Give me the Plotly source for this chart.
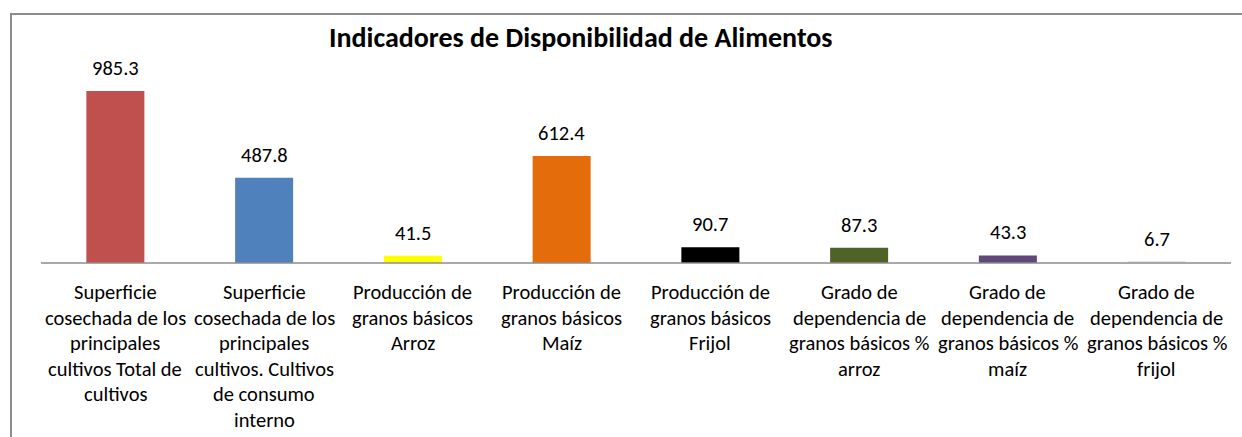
import plotly.graph_objects as go

categories = [
    "Superficie<br>cosechada de los<br>principales<br>cultivos Total de<br>cultivos",
    "Superficie<br>cosechada de los<br>principales<br>cultivos. Cultivos<br>de consumo<br>interno",
    "Producción de<br>granos básicos<br>Arroz",
    "Producción de<br>granos básicos<br>Maíz",
    "Producción de<br>granos básicos<br>Frijol",
    "Grado de<br>dependencia de<br>granos básicos %<br>arroz",
    "Grado de<br>dependencia de<br>granos básicos %<br>maíz",
    "Grado de<br>dependencia de<br>granos básicos %<br>frijol",
]
values = [985.3, 487.8, 41.5, 612.4, 90.7, 87.3, 43.3, 6.7]
value_labels = ["985.3", "487.8", "41.5", "612.4", "90.7", "87.3", "43.3", "6.7"]
colors = ["#C0504D", "#4F81BD", "#FFFF00", "#E46C0A", "#000000", "#4F6228", "#5F497A", "#E6E6E6"]
title = "Indicadores de Disponibilidad de Alimentos"

FONT = "Carlito, Calibri, Lato, sans-serif"
xs = list(range(len(categories)))

# paper coords derived from margins
L, R, T, B = 41, 11, 40, 174
W, H = 1242, 437
pw, ph = W - L - R, H - T - B
def px(xp): return (xp - L) / pw
def py(yp): return (H - B - yp) / ph

fig = go.Figure()
fig.add_trace(go.Bar(
    x=xs, y=values, marker=dict(color=colors, line=dict(width=0)),
    width=0.39, hoverinfo="skip", showlegend=False,
))

annotations = []
for i, (v, t) in enumerate(zip(values, value_labels)):
    annotations.append(dict(x=i, y=v, xref="x", yref="y", text=t, showarrow=False,
                            yanchor="middle", yshift=23,
                            font=dict(family=FONT, size=20.5, color="#000")))
for i, cat in enumerate(categories):
    for j, line in enumerate(cat.split("<br>")):
        annotations.append(dict(x=i, y=0, xref="x", yref="paper", text=line, showarrow=False,
                                yanchor="middle", yshift=-29 - 25.6 * j,
                                font=dict(family=FONT, size=20.5, color="#000")))
annotations.append(dict(x=px(581), y=py(38), xref="paper", yref="paper",
                        text="<b>" + title + "</b>", showarrow=False,
                        xanchor="center", yanchor="middle",
                        font=dict(family=FONT, size=28, color="#000")))

fig.update_layout(
    width=W, height=H,
    margin=dict(l=L, r=R, t=T, b=B),
    paper_bgcolor="white", plot_bgcolor="white",
    xaxis=dict(range=[-0.5, len(categories) - 0.5], showticklabels=False, showgrid=False,
               zeroline=False, showline=False, ticks=""),
    yaxis=dict(range=[0, 985.3 * ph / 172], visible=False, showgrid=False, zeroline=False),
    annotations=annotations,
    shapes=[
        dict(type="line", xref="paper", yref="paper", x0=0, x1=1, y0=0, y1=0,
             line=dict(color="#8C8C8C", width=1.5)),
        dict(type="path", xref="paper", yref="paper",
             path=f"M {px(11)} {py(440)} L {px(11)} {py(14)} L {px(1245)} {py(14)}",
             line=dict(color="#8C8C8C", width=2)),
    ],
)
fig.write_html("out.html", config={"displayModeBar": False},
               post_script="document.body.style.margin='0';document.body.style.overflow='hidden';")
